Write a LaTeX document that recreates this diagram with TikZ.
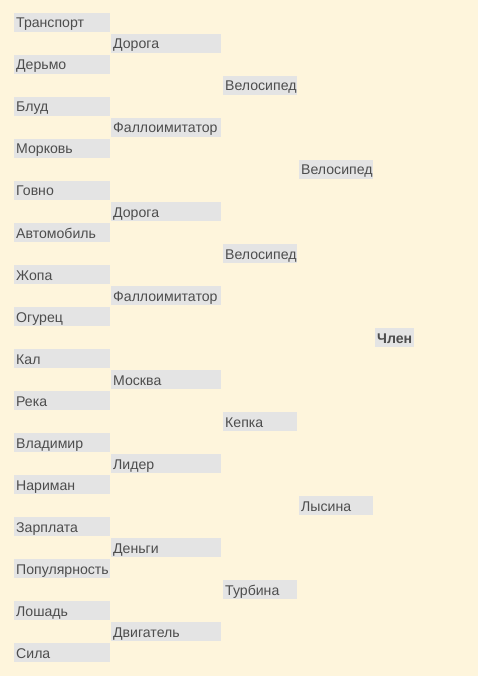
\documentclass[tikz,border=0pt]{standalone}
\usepackage{fontspec}
\setmainfont{Liberation Sans}
\usetikzlibrary{positioning}

\definecolor{paper}{HTML}{FEF5DC}
\definecolor{cellgray}{HTML}{E4E4E4}
\definecolor{inkgray}{HTML}{4D4D4D}

\begin{document}
\begin{tikzpicture}[
  x=1pt, y=-1pt,
  font=\fontsize{14.1}{16}\selectfont,
  cell/.style = {fill=cellgray, text=inkgray, anchor=west, align=flush left,
                 minimum height=19pt, inner xsep=2pt, inner ysep=0pt,
                 text height=12.5pt, text depth=1.5pt},
  round1/.style = {cell, text width=92pt},
  round2/.style = {cell, text width=106pt},
  round3/.style = {cell, text width=70pt},
  round4/.style = {cell, text width=70pt},
  final/.style = {cell, font=\fontsize{14.1}{16}\selectfont\bfseries}
]

% Background
\fill[paper] (0,0) rectangle (478,676);
\useasboundingbox (0,0) rectangle (478,676);

% Round 1
\node[round1] (r1a) at (14,22.5)  {Транспорт};
\node[round1] (r1b) at (14,64.5)  {Дерьмо};
\node[round1] (r1c) at (14,106.5) {Блуд};
\node[round1] (r1d) at (14,148.5) {Морковь};
\node[round1] (r1e) at (14,190.5) {Говно};
\node[round1] (r1f) at (14,232.5) {Автомобиль};
\node[round1] (r1g) at (14,274.5) {Жопа};
\node[round1] (r1h) at (14,316.5) {Огурец};
\node[round1] (r1i) at (14,358.5) {Кал};
\node[round1] (r1j) at (14,400.5) {Река};
\node[round1] (r1k) at (14,442.5) {Владимир};
\node[round1] (r1l) at (14,484.5) {Нариман};
\node[round1] (r1m) at (14,526.5) {Зарплата};
\node[round1] (r1n) at (14,568.5) {Популярность};
\node[round1] (r1o) at (14,610.5) {Лошадь};
\node[round1] (r1p) at (14,652.5) {Сила};

% Round 2
\node[round2] (r2a) at (111,43.5)  {Дорога};
\node[round2] (r2b) at (111,127.5) {Фаллоимитатор};
\node[round2] (r2c) at (111,211.5) {Дорога};
\node[round2] (r2d) at (111,295.5) {Фаллоимитатор};
\node[round2] (r2e) at (111,379.5) {Москва};
\node[round2] (r2f) at (111,463.5) {Лидер};
\node[round2] (r2g) at (111,547.5) {Деньги};
\node[round2] (r2h) at (111,631.5) {Двигатель};

% Round 3
\node[round3] (r3a) at (223,85.5)  {Велосипед};
\node[round3] (r3b) at (223,253.5) {Велосипед};
\node[round3] (r3c) at (223,421.5) {Кепка};
\node[round3] (r3d) at (223,589.5) {Турбина};

% Round 4
\node[round4] (r4a) at (299,169.5) {Велосипед};
\node[round4] (r4b) at (299,505.5) {Лысина};

% Winner
\node[final] (win) at (375,337.5) {Член};

\end{tikzpicture}
\end{document}
